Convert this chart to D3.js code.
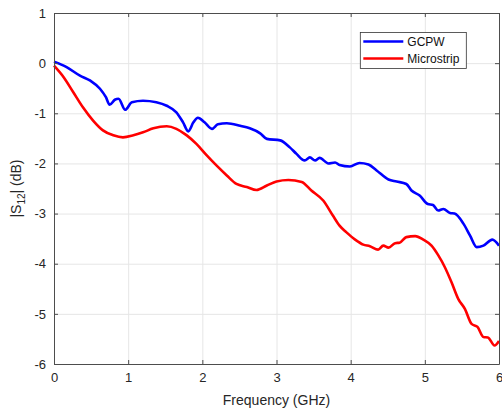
<!DOCTYPE html>
<html>
<head>
<meta charset="utf-8">
<script src="https://cdn.jsdelivr.net/npm/d3@7"></script>
<style>
  body { margin: 0; background: #fff; }
  text { font-family: "Liberation Sans", Arial, sans-serif; }
  .grid line { stroke: #e6e6e6; }
  .grid path { display: none; }
  .axis path, .axis line { stroke: #4d4d4d; }
  .axis text { fill: #262626; font-size: 13px; }
</style>
</head>
<body>
<svg id="chart"></svg>
<script>
// GCPW trace (blue)
var gcpwFreq = [0, 0.17, 0.35, 0.49, 0.62, 0.70, 0.75, 0.82, 0.87, 0.96, 1.05, 1.2, 1.38, 1.52, 1.65, 1.74, 1.81,
    1.88, 1.94, 2.03, 2.13, 2.21, 2.33, 2.51, 2.64, 2.78, 2.87, 3.05, 3.18, 3.27, 3.38, 3.45, 3.52, 3.58, 3.70,
    3.79, 3.85, 3.99, 4.12, 4.24, 4.35, 4.51, 4.62, 4.75, 4.82, 4.93, 5.04, 5.11, 5.18, 5.25, 5.34, 5.40, 5.52,
    5.61, 5.70, 5.79, 5.91, 6.0]
var gcpwDb = [0.03, -0.08, -0.25, -0.35, -0.51, -0.68, -0.83, -0.73, -0.71, -0.93, -0.78, -0.75, -0.78, -0.85, -0.98, -1.18, -1.36,
    -1.18, -1.09, -1.18, -1.31, -1.22, -1.2, -1.25, -1.3, -1.4, -1.51, -1.54, -1.68, -1.81, -1.94, -1.88, -1.94, -1.89, -2.0,
    -1.98, -2.03, -2.06, -1.99, -2.02, -2.14, -2.32, -2.36, -2.41, -2.54, -2.64, -2.81, -2.83, -2.94, -2.91, -2.99, -3.0, -3.2,
    -3.44, -3.67, -3.64, -3.52, -3.64]

// Microstrip trace (red)
var msFreq = [0, 0.13, 0.26, 0.39, 0.53, 0.66, 0.8, 0.93, 1.07, 1.2, 1.34, 1.52, 1.65, 1.79, 1.92, 2.06, 2.19,
    2.33, 2.46, 2.6, 2.73, 2.87, 3.0, 3.16, 3.34, 3.47, 3.63, 3.76, 3.85, 3.94, 4.06, 4.17, 4.26, 4.37, 4.44,
    4.51, 4.6, 4.66, 4.75, 4.87, 4.98, 5.09, 5.18, 5.27, 5.36, 5.45, 5.54, 5.63, 5.71, 5.79, 5.85, 5.94, 6.0]
var msDb = [-0.05, -0.28, -0.58, -0.88, -1.15, -1.34, -1.44, -1.48, -1.44, -1.38, -1.3, -1.26, -1.31, -1.44, -1.61, -1.84, -2.04,
    -2.24, -2.41, -2.47, -2.53, -2.44, -2.36, -2.33, -2.37, -2.54, -2.74, -3.04, -3.24, -3.37, -3.52, -3.62, -3.65, -3.72, -3.64,
    -3.68, -3.59, -3.58, -3.47, -3.45, -3.52, -3.64, -3.83, -4.07, -4.37, -4.7, -4.9, -5.2, -5.26, -5.46, -5.47, -5.63, -5.54]

var xTicks = [0, 1, 2, 3, 4, 5, 6]
var yTicks = [-6, -5, -4, -3, -2, -1, 0, 1]
var seriesNames = ['GCPW', 'Microstrip']
var seriesColors = ['#0000ff', '#ff0000']

var margin = { top: 13, right: 3, bottom: 44, left: 54 },
    width = 502 - margin.left - margin.right,
    height = 408 - margin.top - margin.bottom;

var svgRoot = d3.select('#chart')
    .attr('width', 502)
    .attr('height', 408)

var svg = svgRoot.append('g')
    .attr('transform', 'translate(' + margin.left + ',' + margin.top + ')')

var x = d3.scaleLinear().domain([0, 6]).range([0, width])
var y = d3.scaleLinear().domain([-6, 1]).range([height, 0])

// plain hyphen for negatives, like the original figure
var plainFmt = function (d) { return String(d) }

// gridlines
svg.append('g')
    .attr('class', 'grid')
    .attr('transform', 'translate(0,' + height + ')')
    .call(d3.axisBottom(x).tickValues(xTicks).tickSize(-height).tickFormat(''))
svg.append('g')
    .attr('class', 'grid')
    .call(d3.axisLeft(y).tickValues(yTicks).tickSize(-width).tickFormat(''))

// traces
var line = d3.line()
    .x(function (d) { return x(d[0]) })
    .y(function (d) { return y(d[1]) })
    .curve(d3.curveMonotoneX)

var traces = [
    d3.zip(gcpwFreq, gcpwDb),
    d3.zip(msFreq, msDb)
]
traces.forEach(function (t, i) {
    svg.append('path')
        .datum(t)
        .attr('fill', 'none')
        .attr('stroke', seriesColors[i])
        .attr('stroke-width', 2.6)
        .attr('stroke-linejoin', 'round')
        .attr('d', line)
})

// axes (box style, ticks inside)
svg.append('g')
    .attr('class', 'axis')
    .attr('transform', 'translate(0,' + height + ')')
    .call(d3.axisBottom(x).tickValues(xTicks).tickSizeInner(-4).tickSizeOuter(0).tickPadding(9).tickFormat(plainFmt))
svg.append('g')
    .attr('class', 'axis')
    .call(d3.axisLeft(y).tickValues(yTicks).tickSizeInner(-4).tickSizeOuter(0).tickPadding(8).tickFormat(plainFmt))
svg.append('g')
    .attr('class', 'axis')
    .call(d3.axisTop(x).tickValues(xTicks).tickSizeInner(-4).tickSizeOuter(0).tickFormat(''))
svg.append('g')
    .attr('class', 'axis')
    .attr('transform', 'translate(' + width + ',0)')
    .call(d3.axisRight(y).tickValues(yTicks).tickSizeInner(-4).tickSizeOuter(0).tickFormat(''))

// axis labels
svg.append('text')
    .attr('x', width / 2)
    .attr('y', height + 41)
    .attr('text-anchor', 'middle')
    .attr('fill', '#262626')
    .style('font-size', '14px')
    .text('Frequency (GHz)')

var yLab = svg.append('text')
    .attr('transform', 'translate(' + (-33) + ',' + (height / 2) + ') rotate(-90)')
    .attr('text-anchor', 'middle')
    .attr('fill', '#262626')
    .style('font-size', '14px')
yLab.append('tspan').text('|S')
yLab.append('tspan').attr('dy', 4).style('font-size', '10px').text('12')
yLab.append('tspan').attr('dy', -4).text('| (dB)')

// legend
var legend = svg.append('g')
    .attr('transform', 'translate(' + (x(4.13)) + ',' + (y(0.61)) + ')')
legend.append('rect')
    .attr('width', 106)
    .attr('height', 36)
    .attr('fill', '#fff')
    .attr('stroke', '#333')
    .attr('stroke-width', 0.8)
seriesNames.forEach(function (name, i) {
    legend.append('line')
        .attr('x1', 3).attr('x2', 43)
        .attr('y1', 9 + i * 17).attr('y2', 9 + i * 17)
        .attr('stroke', seriesColors[i])
        .attr('stroke-width', 2.6)
    legend.append('text')
        .attr('x', 47)
        .attr('y', 9 + i * 17)
        .attr('dy', '0.35em')
        .attr('fill', '#111')
        .style('font-size', '12px')
        .text(name)
})
</script>
</body>
</html>
